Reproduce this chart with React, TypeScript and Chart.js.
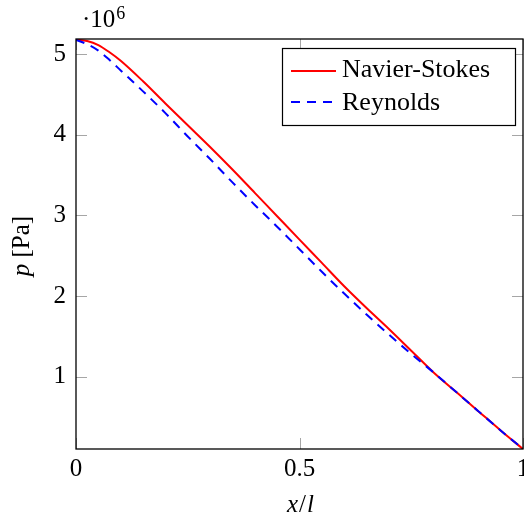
import React, { useEffect, useRef } from "react";
import { Chart, registerables } from "chart.js";

Chart.register(...registerables);

// ---- data (pressure in units of 10^6 Pa) ----
const xValues = [0, 0.025, 0.05, 0.075, 0.1, 0.15, 0.2, 0.25, 0.3, 0.35, 0.4, 0.45, 0.5, 0.55, 0.6, 0.65, 0.7, 0.75, 0.8, 0.85, 0.9, 0.95, 1.0];
const navierStokes = [5.18, 5.165, 5.115, 5.025, 4.92, 4.665, 4.39, 4.12, 3.85, 3.57, 3.28, 2.99, 2.70, 2.41, 2.12, 1.85, 1.59, 1.32, 1.05, 0.81, 0.57, 0.33, 0.10];
const reynolds = [5.18, 5.125, 5.045, 4.93, 4.80, 4.54, 4.27, 3.98, 3.70, 3.41, 3.13, 2.86, 2.58, 2.30, 2.03, 1.77, 1.52, 1.28, 1.05, 0.81, 0.57, 0.33, 0.10];
const seriesLabels = ["Navier-Stokes", "Reynolds"];
const seriesColors = ["#ff0000", "#0000ff"];
const xTicks = [0, 0.5, 1];
const yTicks = [1, 2, 3, 4, 5];
const xMin = 0;
const xMax = 1;
const yMin = 0.1;
const yMax = 5.19;

const FONT = '"Liberation Serif", "Times New Roman", serif';
const FS = 25;

const decorations = {
  id: "decorations",
  beforeDatasetsDraw(chart: any) {
    const { ctx, chartArea: a, scales } = chart;
    ctx.save();
    ctx.strokeStyle = "#a6a6a6";
    ctx.lineWidth = 1;
    const tl = 11;
    ctx.beginPath();
    for (const v of yTicks) {
      const y = Math.round(scales.y.getPixelForValue(v)) + 0.5;
      ctx.moveTo(a.left, y);
      ctx.lineTo(a.left + tl, y);
      ctx.moveTo(a.right, y);
      ctx.lineTo(a.right - tl, y);
    }
    for (const v of xTicks) {
      const x = Math.round(scales.x.getPixelForValue(v)) + 0.5;
      ctx.moveTo(x, a.bottom);
      ctx.lineTo(x, a.bottom - tl);
      ctx.moveTo(x, a.top);
      ctx.lineTo(x, a.top + tl);
    }
    ctx.stroke();
    ctx.restore();
  },
  afterDraw(chart: any) {
    const { ctx, chartArea: a } = chart;
    ctx.save();
    // frame
    ctx.strokeStyle = "#000";
    ctx.lineWidth = 1.3;
    ctx.strokeRect(a.left, a.top, a.right - a.left, a.bottom - a.top);

    ctx.fillStyle = "#000";
    ctx.textBaseline = "alphabetic";
    ctx.textAlign = "left";

    // scale factor ·10^6
    ctx.font = `${FS}px ${FONT}`;
    const dot = "\u00b7";
    ctx.fillText(dot + "10", 82, 27);
    const w10 = ctx.measureText(dot + "10").width;
    ctx.font = `18px ${FONT}`;
    ctx.fillText("6", 82 + w10 + 1, 19);

    // x axis title: x/l
    const cx = (a.left + a.right) / 2;
    const parts: [string, string][] = [
      ["x", `italic ${FS}px ${FONT}`],
      ["/", `${FS}px ${FONT}`],
      ["l", `italic ${FS}px ${FONT}`],
    ];
    let total = 0;
    for (const [t, f] of parts) {
      ctx.font = f;
      total += ctx.measureText(t).width;
    }
    let px = cx - total / 2;
    for (const [t, f] of parts) {
      ctx.font = f;
      ctx.fillText(t, px, 512);
      px += ctx.measureText(t).width + 1;
    }

    // y axis title: p [Pa]
    const cy = (a.top + a.bottom) / 2 + 2;
    const yparts: [string, string][] = [
      ["p", `italic ${FS}px ${FONT}`],
      [" [Pa]", `${FS}px ${FONT}`],
    ];
    let ytotal = 0;
    for (const [t, f] of yparts) {
      ctx.font = f;
      ytotal += ctx.measureText(t).width;
    }
    ctx.save();
    ctx.translate(29, cy);
    ctx.rotate(-Math.PI / 2);
    let py = -ytotal / 2;
    for (const [t, f] of yparts) {
      ctx.font = f;
      ctx.fillText(t, py, 0);
      py += ctx.measureText(t).width;
    }
    ctx.restore();

    // legend
    const bx = 282, by = 48, bw = 233, bh = 77;
    ctx.fillStyle = "#fff";
    ctx.fillRect(bx, by, bw, bh);
    ctx.strokeStyle = "#000";
    ctx.lineWidth = 1.2;
    ctx.strokeRect(bx + 0.5, by + 0.5, bw, bh);
    const rows = [
      { y: 71, base: 77, dash: [] as number[] },
      { y: 102, base: 110, dash: [9, 7] },
    ];
    rows.forEach((r, i) => {
      ctx.strokeStyle = seriesColors[i];
      ctx.lineWidth = 2;
      ctx.setLineDash(r.dash);
      ctx.beginPath();
      ctx.moveTo(291, r.y);
      ctx.lineTo(336, r.y);
      ctx.stroke();
      ctx.setLineDash([]);
      ctx.fillStyle = "#000";
      ctx.font = `26px ${FONT}`;
      ctx.fillText(seriesLabels[i], 342, r.base);
    });
    ctx.restore();
  },
};

export default function App() {
  const ref = useRef<HTMLCanvasElement | null>(null);
  useEffect(() => {
    if (!ref.current) return;
    const chart = new Chart(ref.current, {
      type: "line",
      data: {
        datasets: [
          {
            label: seriesLabels[0],
            data: xValues.map((x, i) => ({ x, y: navierStokes[i] })),
            borderColor: seriesColors[0],
            backgroundColor: seriesColors[0],
            borderWidth: 2,
            pointRadius: 0,
            cubicInterpolationMode: "monotone",
            fill: false,
            order: 1,
          },
          {
            label: seriesLabels[1],
            data: xValues.map((x, i) => ({ x, y: reynolds[i] })),
            borderColor: seriesColors[1],
            backgroundColor: seriesColors[1],
            borderWidth: 2,
            borderDash: [9, 7],
            pointRadius: 0,
            cubicInterpolationMode: "monotone",
            fill: false,
            order: 0,
          },
        ],
      },
      options: {
        animation: false,
        responsive: false,
        devicePixelRatio: 1,
        layout: { padding: { left: 0, right: 1, top: 39, bottom: 0 } },
        plugins: { legend: { display: false }, tooltip: { enabled: false }, title: { display: false } },
        scales: {
          x: {
            type: "linear",
            min: xMin,
            max: xMax,
            grid: { display: false, drawTicks: false },
            border: { display: false },
            afterBuildTicks: (s: any) => {
              s.ticks = xTicks.map((v) => ({ value: v }));
            },
            afterFit: (s: any) => {
              s.height = 73;
              s.paddingLeft = 0;
              s.paddingRight = 0;
            },
            ticks: {
              color: "#000",
              font: { family: FONT, size: FS },
              padding: 5,
              maxRotation: 0,
              autoSkip: false,
              callback: (v: any) => String(v),
            },
          },
          y: {
            type: "linear",
            min: yMin,
            max: yMax,
            grid: { display: false, drawTicks: false },
            border: { display: false },
            afterBuildTicks: (s: any) => {
              s.ticks = yTicks.map((v) => ({ value: v }));
            },
            afterFit: (s: any) => {
              s.width = 76;
              s.paddingTop = 0;
              s.paddingBottom = 0;
            },
            ticks: {
              color: "#000",
              font: { family: FONT, size: FS },
              padding: 10,
              autoSkip: false,
              callback: (v: any) => String(v),
            },
          },
        },
      },
      plugins: [decorations],
    });
    return () => chart.destroy();
  }, []);
  return (
    <div style={{ position: "absolute", left: 0, top: 0, width: 524, height: 522 }}>
      <canvas ref={ref} width={524} height={522} style={{ width: 524, height: 522, display: "block" }} />
    </div>
  );
}
